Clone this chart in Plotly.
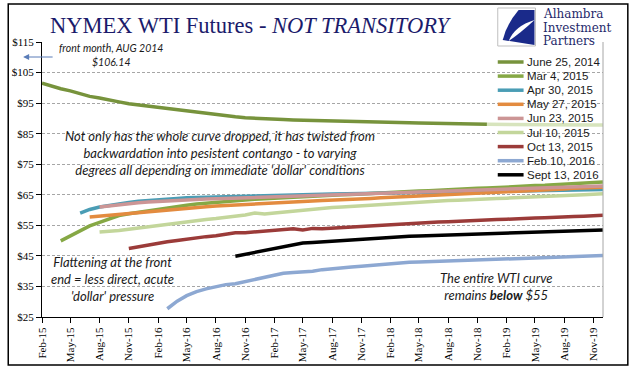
import pandas as pd
import plotly.graph_objects as go

# ---------------- data ----------------
months = pd.date_range("2015-02-01", "2019-12-01", freq="MS")

jun25_2014 = [101.5, 100.6, 99.7, 99.0, 98.0, 97.2, 96.7, 95.9, 95.4, 94.8,
              94.4, 94.0, 93.6, 93.2, 92.8, 92.3, 91.9, 91.5, 91.2, 90.8,
              90.5, 90.2, 90.0, 89.9, 89.8, 89.6, 89.5, 89.4, 89.3, 89.2,
              89.1, 89.0, 88.95, 88.9, 88.8, 88.75, 88.7, 88.6, 88.55, 88.5,
              88.4, 88.35, 88.3, 88.2, 88.15, 88.1, 88.05, 88.0, 88.0, 87.95,
              87.95, 87.9, 87.9, 87.85, 87.85, 87.8, 87.8, 87.8, 87.8]
mar4_2015 = [None] * 2 + [49.9, 51.5, 53.2, 54.8, 56.0, 57.2, 58.2, 58.8, 59.3, 59.8,
                          60.3, 60.8, 61.2, 61.6, 62.0, 62.3, 62.5, 62.8, 63.0, 63.3,
                          63.5, 63.7, 63.9, 64.0, 64.2, 64.4, 64.5, 64.7, 64.8,
                          65.0, 65.1, 65.3, 65.4, 65.6, 65.7, 65.9, 66.0, 66.2, 66.3,
                          66.5, 66.6, 66.8, 66.9, 67.1, 67.2, 67.4, 67.5, 67.7, 67.8,
                          68.0, 68.1, 68.3, 68.4, 68.6, 68.8, 69.0, 69.2]
apr30_2015 = [None] * 4 + [59.0, 60.2, 61.0, 61.6, 62.1, 62.5, 62.9, 63.2, 63.4, 63.6,
                           63.8, 64.0, 64.1, 64.3, 64.4, 64.5, 64.6, 64.7, 64.8, 64.85, 64.9, 65.0,
                           65.05, 65.1, 65.15, 65.2, 65.25, 65.3, 65.35, 65.4, 65.45, 65.5,
                           65.55, 65.6, 65.65, 65.7, 65.75, 65.8, 65.85, 65.9, 65.95, 66.0,
                           66.05, 66.1, 66.15, 66.2, 66.25, 66.3, 66.4, 66.45, 66.5, 66.55,
                           66.6, 66.65, 66.7]
may27_2015 = [None] * 5 + [57.7, 58.0, 58.3, 58.7, 59.0, 59.3, 59.5, 59.8, 60.1, 60.4,
                           60.6, 60.9, 61.1, 61.3, 61.5, 61.7, 61.9, 62.0, 62.2, 62.4,
                           62.5, 62.7, 62.8, 63.0, 63.1, 63.2,
                           63.4, 63.5, 63.7, 63.8, 64.0, 64.1, 64.3, 64.4, 64.6, 64.8,
                           64.9, 65.1, 65.2, 65.4, 65.5, 65.7, 65.8, 66.0, 66.1, 66.3,
                           66.4, 66.6, 66.8, 66.9, 67.1, 67.2, 67.4, 67.5]
jun23_2015 = [None] * 6 + [61.0, 61.4, 61.8, 62.1, 62.4, 62.6, 62.8, 63.0, 63.2, 63.4,
                           63.5, 63.6, 63.7, 63.8, 63.9, 64.0, 64.1, 64.2, 64.3, 64.4,
                           64.5, 64.6, 64.7, 64.8, 64.9, 65.0,
                           65.1, 65.2, 65.3, 65.4, 65.5, 65.6, 65.7, 65.8, 65.9, 66.0,
                           66.1, 66.2, 66.4, 66.5, 66.6, 66.7, 66.8, 66.9, 67.0, 67.1,
                           67.2, 67.3, 67.5, 67.6, 67.7, 67.8, 67.9]
jul10_2015 = [None] * 6 + [52.8, 53.0, 53.3, 53.7, 54.1, 54.6, 55.1, 55.5, 55.8, 56.2,
                           56.6, 56.9, 57.2, 57.6, 57.9, 58.4, 59.0, 58.7, 59.0, 59.3,
                           59.7, 60.0, 60.4, 60.6, 60.8, 61.0, 61.2, 61.4, 61.6, 61.8,
                           62.0, 62.2, 62.5, 62.6, 62.8, 62.9, 63.1, 63.2, 63.4, 63.5,
                           63.6, 63.8, 63.9, 64.0, 64.2, 64.3, 64.4, 64.6, 64.7, 64.9,
                           65.0, 65.2, 65.3]
oct13_2015 = [None] * 9 + [47.4, 48.0, 48.5, 49.0, 49.6, 50.0, 50.4, 51.1, 51.3, 51.6,
                           52.0, 52.6, 52.6, 52.9, 53.1, 53.4, 53.6, 53.9, 53.5, 54.0,
                           53.9, 54.1, 54.3, 54.5, 54.7, 54.9, 55.1, 55.3, 55.5, 55.7,
                           55.8, 55.9, 56.1, 56.2, 56.4, 56.5, 56.6, 56.8, 56.9, 57.0,
                           57.2, 57.3, 57.4, 57.5, 57.7, 57.8, 57.9, 58.0, 58.2, 58.3]
feb10_2016 = [None] * 13 + [27.7, 30.2, 32.0, 33.3, 34.2, 35.0, 35.6, 35.9, 36.6, 37.4,
                            38.0, 38.7, 39.3, 39.6, 39.8, 40.0, 40.5, 40.9, 41.2, 41.4,
                            41.6, 41.9, 42.1, 42.4, 42.7, 42.9, 43.0, 43.1, 43.2, 43.4,
                            43.5, 43.6, 43.7, 43.8, 43.9, 44.0, 44.1, 44.2, 44.3, 44.4,
                            44.6, 44.7, 44.8, 44.9, 45.0, 45.1]
sep13_2016 = [None] * 20 + [44.9, 45.5, 46.2, 46.9, 47.5, 48.1, 48.7, 49.2, 49.4, 49.6,
                            49.8, 50.0, 50.3, 50.6, 50.8, 50.9, 51.1, 51.2, 51.4, 51.5,
                            51.6, 51.7, 51.8, 51.9, 52.0, 52.1, 52.2, 52.3, 52.4, 52.5,
                            52.6, 52.7, 52.8, 52.9, 53.1, 53.2, 53.3, 53.4, 53.5]

series_names = ["June 25, 2014", "Mar 4, 2015", "Apr 30, 2015", "May 27, 2015",
                "Jun 23, 2015", "Jul 10, 2015", "Oct 13, 2015", "Feb 10, 2016",
                "Sept 13, 2016"]
series_values = [jun25_2014, mar4_2015, apr30_2015, may27_2015, jun23_2015,
                 jul10_2015, oct13_2015, feb10_2016, sep13_2016]
series_colors = ["#77933C", "#86A845", "#4A9DB5", "#E38B3F", "#CC9595",
                 "#C3D69B", "#9B3B39", "#8DA8D2", "#000000"]
jun2014_split = 46          # month index where the 2014 curve turns pale
jun2014_tail_color = "#D7E4BD"

y_ticks = [25, 35, 45, 55, 65, 75, 85, 95, 105, 115]
y_tick_labels = ["$" + str(v) for v in y_ticks]
x_ticks = months[::3]
x_tick_labels = [d.strftime("%b-%y") for d in x_ticks]

# ---------------- layout helpers (pixel -> paper) ----------------
W, H = 641, 386
L, R, T, B = 38, 603, 42, 317


def px(x):
    return (x - L) / (R - L)


def py(y):
    return (B - y) / (B - T)


fig = go.Figure()

for i in range(len(series_values)):
    vals = series_values[i]
    if i == 0:
        fig.add_trace(go.Scatter(x=months[jun2014_split:], y=vals[jun2014_split:],
                                 mode="lines", line=dict(color=jun2014_tail_color, width=3.5),
                                 showlegend=False, hoverinfo="skip"))
        fig.add_trace(go.Scatter(x=months[:jun2014_split + 1], y=vals[:jun2014_split + 1],
                                 mode="lines", line=dict(color=series_colors[i], width=3.5),
                                 name=series_names[i], showlegend=False))
    else:
        fig.add_trace(go.Scatter(x=months, y=vals, mode="lines",
                                 line=dict(color=series_colors[i], width=3.5),
                                 name=series_names[i], showlegend=False))

shapes = []
annotations = []

# outer frame
shapes.append(dict(type="rect", xref="paper", yref="paper",
                   x0=px(4), x1=px(628), y0=py(365), y1=py(4),
                   line=dict(color="black", width=1.5), layer="below"))
# right plot border
shapes.append(dict(type="line", xref="paper", yref="paper",
                   x0=1, x1=1, y0=0, y1=1, line=dict(color="#A6A6A6", width=1)))

# manual legend
leg_y0, leg_dy = 62, 14.1
for k, (nm, col) in enumerate(zip(series_names, series_colors)):
    yy = leg_y0 + k * leg_dy
    shapes.append(dict(type="line", xref="paper", yref="paper",
                       x0=px(497), x1=px(523), y0=py(yy), y1=py(yy),
                       line=dict(color=col, width=3.5)))
    annotations.append(dict(xref="paper", yref="paper", x=px(524), y=py(yy),
                            xanchor="left", yanchor="middle", showarrow=False,
                            text=nm, font=dict(family="Liberation Sans", size=11.5, color="#1a1a1a")))

# title
annotations.append(dict(xref="paper", yref="paper", x=px(44), y=py(25),
                        xanchor="left", yanchor="middle", showarrow=False,
                        text="NYMEX WTI Futures - <i>NOT TRANSITORY</i>",
                        font=dict(family="Liberation Serif", size=22.5, color="#1B1B6B")))

# logo
shapes.append(dict(type="rect", xref="paper", yref="paper",
                   x0=px(497), x1=px(535), y0=py(46), y1=py(8),
                   line=dict(color="#BFBFBF", width=1), fillcolor="white"))
logo_path = "M {a},{b} L {i},{j} Q {c},{d} {e},{f} L {g},{h} Z".format(
    a=px(534), b=py(10), i=px(518), j=py(10), c=px(506), d=py(24),
    e=px(502), f=py(40), g=px(534), h=py(45))
shapes.append(dict(type="path", xref="paper", yref="paper", path=logo_path,
                   fillcolor="#1A2A8A", line=dict(width=0)))
cut_path = "M {a},{b} Q {c},{d} {e},{f} Q {g},{h} {a},{b} Z".format(
    a=px(534), b=py(20), c=px(514), d=py(26), e=px(508), f=py(41), g=px(520), h=py(33))
shapes.append(dict(type="path", xref="paper", yref="paper", path=cut_path,
                   fillcolor="white", line=dict(width=0)))
for txt, yy in [("Alhambra", 14), ("Investment", 27.5), ("Partners", 41)]:
    annotations.append(dict(xref="paper", yref="paper", x=px(542), y=py(yy),
                            xanchor="left", yanchor="middle", showarrow=False, text=txt,
                            borderpad=0,
                            font=dict(family="DejaVu Serif", size=12, color="#1F2A6B")))

note_font = dict(family="Lato", size=13, color="#1a1a1a")

# front month note
annotations.append(dict(xref="paper", yref="paper", x=px(107), y=py(55),
                        xanchor="center", yanchor="middle", showarrow=False,
                        text="<i>front month, AUG 2014<br>$106.14</i>",
                        font=dict(family="Lato", size=10.5, color="#1a1a1a")))
annotations.append(dict(xref="paper", yref="paper", x=px(19), y=py(57),
                        ax=31, ay=0, axref="pixel", ayref="pixel",
                        showarrow=True, arrowhead=2, arrowsize=1.2, arrowwidth=1,
                        arrowcolor="#5B7DB8", text=""))

annotations.append(dict(xref="paper", yref="paper", x=px(217), y=py(153),
                        xanchor="center", yanchor="middle", showarrow=False,
                        text="<i>Not only has the whole curve dropped, it has twisted from<br>"
                             "backwardation into pesistent contango - to varying<br>"
                             "degrees all depending on immediate 'dollar' conditions</i>",
                        font=note_font))
annotations.append(dict(xref="paper", yref="paper", x=px(109), y=py(279),
                        xanchor="center", yanchor="middle", showarrow=False,
                        text="<i>Flattening at the front<br>end = less direct, acute<br>'dollar' pressure</i>",
                        font=note_font))
annotations.append(dict(xref="paper", yref="paper", x=px(495), y=py(286),
                        xanchor="center", yanchor="middle", showarrow=False,
                        text="<i>The entire WTI curve<br>remains <b>below</b> $55</i>",
                        font=note_font))

fig.update_layout(
    width=W, height=H,
    margin=dict(l=L, r=W - R, t=T, b=H - B),
    paper_bgcolor="white", plot_bgcolor="white",
    showlegend=False,
    shapes=shapes, annotations=annotations,
    xaxis=dict(type="date", range=[months[0], months[-1]],
               tickvals=list(x_ticks), ticktext=x_tick_labels, tickangle=-90,
               ticks="outside", ticklen=5, tickcolor="black",
               showline=True, linecolor="black", linewidth=1,
               showgrid=False, zeroline=False,
               tickfont=dict(family="Liberation Serif", size=11, color="black")),
    yaxis=dict(range=[25, 115], tickvals=y_ticks, ticktext=y_tick_labels,
               ticks="outside", ticklen=5, tickcolor="black",
               showline=True, linecolor="black", linewidth=1,
               showgrid=True, gridcolor="#A6A6A6", gridwidth=1, griddash="3px,2px",
               zeroline=False,
               tickfont=dict(family="Liberation Serif", size=11, color="black")),
)

fig.write_html("out.html", config={"displayModeBar": False},
               post_script="document.body.style.margin='0px';")
